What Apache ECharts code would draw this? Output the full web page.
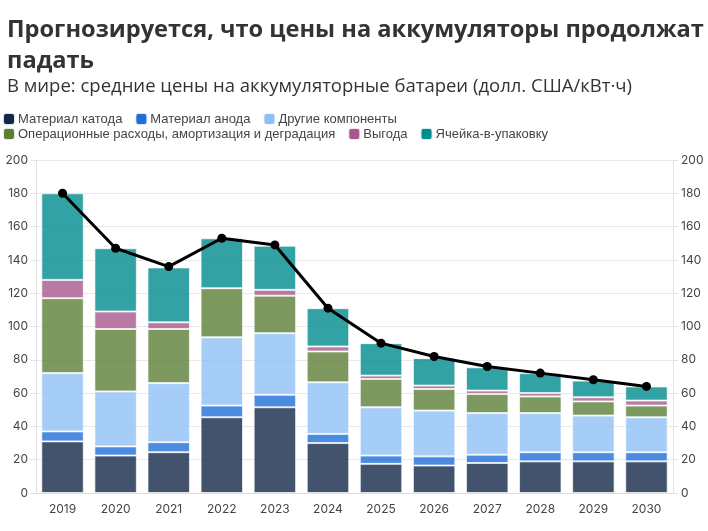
<!DOCTYPE html>
<html>
<head>
<meta charset="utf-8">
<script src="https://cdn.jsdelivr.net/npm/echarts@6/dist/echarts.min.js"></script>
<style>
html,body{margin:0;padding:0;background:#fff;}
#chart{width:708px;height:531px;}
</style>
</head>
<body>
<div id="chart"></div>
<script>
const years = ['2019','2020','2021','2022','2023','2024','2025','2026','2027','2028','2029','2030'];
const cathode = [31, 22.5, 24.5, 45.5, 51.5, 30, 17.5, 16.5, 18, 19, 19, 19];
const anode   = [6, 5.5, 6, 7, 7.5, 5.5, 5, 5.5, 5, 5.5, 5.5, 5.5];
const other   = [35, 33, 35.5, 41, 37, 31, 29, 27.5, 25, 23.5, 22, 21];
const opex    = [45, 37.5, 32.5, 29.5, 22.5, 18.5, 17, 13, 11.5, 10, 8.5, 7];
const profit  = [11, 10.5, 4, 0, 3.5, 3, 2, 2, 2, 2, 2.5, 3];
const cellToPack = [52, 38, 33, 30, 26.5, 23, 19.5, 16.5, 14, 12, 10, 8.5];
const total   = [180, 147, 136, 153, 149, 111, 90, 82, 76, 72, 68, 64];
const yTicks = [0, 20, 40, 60, 80, 100, 120, 140, 160, 180, 200];

const names = ['Материал катода','Материал анода','Другие компоненты','Операционные расходы, амортизация и деградация','Выгода','Ячейка-в-упаковку'];
const colors = ['#14284a','#1f6fd8','#8fc0f5','#5c7f37','#a6588c','#008b8f'];
const values = [cathode, anode, other, opex, profit, cellToPack];

const font = 'Inter, "Noto Sans", sans-serif';
const chart = echarts.init(document.getElementById('chart'));

const barSeries = names.map((n, i) => ({
  name: n,
  type: 'bar',
  stack: 'total',
  data: values[i],
  barCategoryGap: '20%',
  itemStyle: { color: colors[i], opacity: 0.8, borderColor: 'rgba(255,255,255,0.85)', borderWidth: 1 },
  emphasis: { disabled: true }
}));

const legendCommon = {
  left: 2,
  padding: 0,
  itemWidth: 12,
  itemHeight: 12,
  itemGap: 12,
  icon: 'roundRect',
  itemStyle: { opacity: 1 },
  textStyle: { fontFamily: '"Liberation Sans", Arial, sans-serif', fontSize: 13, color: '#444', padding: [0,0,0,-2] }
};

chart.setOption({
  animation: false,
  title: [
    { text: 'Прогнозируется, что цены на аккумуляторы продолжат\nпадать', left: 2, top: 10,
      textStyle: { fontFamily: '"Open Sans", sans-serif', fontWeight: 'bold', fontSize: 23.6, lineHeight: 31, color: '#333' } },
    { text: 'В мире: средние цены на аккумуляторные батареи (долл. США/кВт·ч)', left: 2, top: 72,
      textStyle: { fontFamily: '"Open Sans", sans-serif', fontWeight: 'normal', fontSize: 18.5, color: '#333' } }
  ],
  legend: [
    Object.assign({ top: 112, data: names.slice(0, 3) }, legendCommon),
    Object.assign({ top: 127, data: names.slice(3) }, legendCommon)
  ],
  grid: { left: 36, right: 35, top: 160, bottom: 38 },
  xAxis: {
    type: 'category',
    data: years,
    axisLine: { lineStyle: { color: '#ddd' } },
    axisTick: { alignWithLabel: true, lineStyle: { color: '#ddd' } },
    axisLabel: { fontFamily: font, fontSize: 12, color: '#444', margin: 10 }
  },
  yAxis: [
    { type: 'value', min: 0, max: 200, interval: 20, position: 'left',
      axisLine: { show: true, lineStyle: { color: '#e2e2e2' } },
      axisTick: { show: true, length: 5, lineStyle: { color: '#e2e2e2' } },
      splitLine: { lineStyle: { color: '#e8e8e8' } },
      axisLabel: { fontFamily: font, fontSize: 12, color: '#444', margin: 8 } },
    { type: 'value', min: 0, max: 200, interval: 20, position: 'right',
      axisLine: { show: true, lineStyle: { color: '#e2e2e2' } },
      axisTick: { show: true, length: 5, lineStyle: { color: '#e2e2e2' } },
      splitLine: { show: false },
      axisLabel: { fontFamily: font, fontSize: 12, color: '#444', margin: 8 } }
  ],
  series: barSeries.concat([{
    name: 'Итого',
    type: 'line',
    data: total,
    z: 10,
    symbol: 'circle',
    symbolSize: 9,
    lineStyle: { color: '#000', width: 3 },
    itemStyle: { color: '#000' },
    emphasis: { disabled: true }
  }])
});
</script>
</body>
</html>
